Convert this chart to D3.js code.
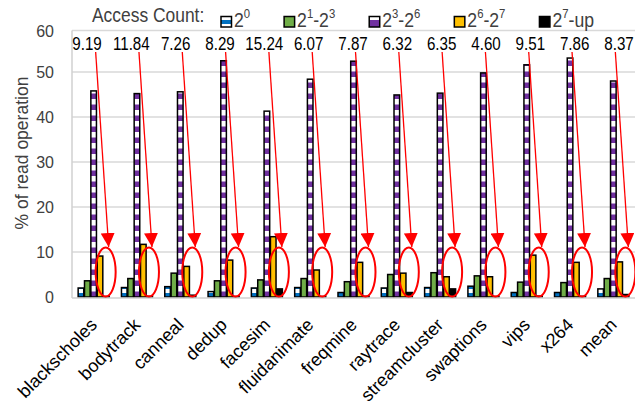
<!DOCTYPE html>
<html><head><meta charset="utf-8">
<script src="https://cdn.jsdelivr.net/npm/d3@7"></script>
<style>body{margin:0;background:#fff} svg{display:block}</style>
</head><body><svg id="c" width="635" height="410"></svg>
<script>
const categories = ["blackscholes","bodytrack","canneal","dedup","facesim","fluidanimate","freqmine","raytrace","streamcluster","swaptions","vips","x264","mean"];
const seriesNames = ["2^0","2^1-2^3","2^3-2^6","2^6-2^7","2^7-up"];
const s2_0    = [2.0, 2.1, 2.3, 1.2, 2.0, 2.1, 1.0, 2.0, 2.1, 2.4, 1.0, 1.0, 1.8];
const s2_1_3  = [3.6, 4.1, 5.3, 3.6, 3.8, 4.1, 3.4, 5.0, 5.4, 4.7, 3.3, 3.2, 4.1];
const s2_3_6  = [45.8, 45.2, 45.6, 52.5, 41.3, 48.4, 52.4, 44.9, 45.3, 49.8, 51.6, 53.1, 48.0];
const s2_6_7  = [9.1, 11.7, 6.8, 8.2, 13.4, 6.0, 7.7, 5.3, 4.5, 4.5, 9.3, 7.7, 7.8];
const s2_7_up = [0.1, 0.15, 0.4, 0.1, 1.8, 0.1, 0.15, 1.0, 1.8, 0.1, 0.2, 0.15, 0.55];
const highlightLabels = ["9.19","11.84","7.26","8.29","15.24","6.07","7.87","6.32","6.35","4.60","9.51","7.86","8.37"];
const yTicks = [0,10,20,30,40,50,60];
const legendTitle = "Access Count:";
const yTitle = "% of read operation";

const seriesValues = [s2_0, s2_1_3, s2_3_6, s2_6_7, s2_7_up];
const fills = ["url(#pBlue)","#70AD47","url(#pPurple)","#FFC000","#000000"];
const legendFills = ["url(#lBlue)","#70AD47","url(#lPurple)","#FFC000","#000000"];
const FONT = "Liberation Sans, Arial, sans-serif";

const svg = d3.select("#c");
const defs = svg.append("defs");
const base = 297, plotTop = 30.5;
function stripe(id, h, topCol, botCol, y0){
  const p = defs.append("pattern").attr("id",id).attr("patternUnits","userSpaceOnUse")
    .attr("width",6).attr("height",h).attr("y",y0);
  p.append("rect").attr("width",6).attr("height",h/2).attr("fill",topCol);
  p.append("rect").attr("y",h/2).attr("width",6).attr("height",h/2).attr("fill",botCol);
}
stripe("pBlue", 8, "#ffffff", "#0070C0", base);
stripe("pPurple", 11, "#ffffff", "#7030A0", base);
const lb = defs.append("linearGradient").attr("id","lBlue").attr("x1",0).attr("y1",0).attr("x2",0).attr("y2",1);
[[0,"#fff"],[0.3,"#fff"],[0.3,"#0070C0"],[0.7,"#0070C0"],[0.7,"#fff"],[1,"#fff"]].forEach(s=>lb.append("stop").attr("offset",s[0]).attr("stop-color",s[1]));
const lp = defs.append("linearGradient").attr("id","lPurple").attr("x1",0).attr("y1",0).attr("x2",0).attr("y2",1);
[[0,"#fff"],[0.35,"#fff"],[0.35,"#7030A0"],[1,"#7030A0"]].forEach(s=>lp.append("stop").attr("offset",s[0]).attr("stop-color",s[1]));
const mk = defs.append("marker").attr("id","arrow").attr("markerUnits","userSpaceOnUse")
  .attr("markerWidth",14).attr("markerHeight",14).attr("viewBox","0 0 14 14")
  .attr("refX",14).attr("refY",7).attr("orient","auto");
mk.append("path").attr("d","M0,0 L14,7 L0,14 Z").attr("fill","#FF0000");

const x0 = d3.scaleBand().domain(categories).range([72,635]).paddingInner(0.284).paddingOuter(0.142);
const x1 = d3.scaleBand().domain(seriesNames).range([0,x0.bandwidth()]).paddingInner(0.12);
const y = d3.scaleLinear().domain([0,60]).range([base,27]);
const gc = c => x0(c) + x0.bandwidth()/2;

// grid + frame
svg.append("g").selectAll("line").data(yTicks.filter(t=>t>0 && t<60)).join("line")
  .attr("x1",72).attr("x2",635).attr("y1",d=>y(d)).attr("y2",d=>y(d))
  .attr("stroke","#d9d9d9").attr("stroke-width",1.3);
svg.append("line").attr("x1",72).attr("x2",635).attr("y1",plotTop).attr("y2",plotTop).attr("stroke","#d9d9d9").attr("stroke-width",1.5);
svg.append("line").attr("x1",72).attr("x2",72).attr("y1",plotTop).attr("y2",base+1).attr("stroke","#d0d0d0").attr("stroke-width",1.5);

// y ticks
const yAxis = svg.append("g").attr("transform","translate(72,0)")
  .call(d3.axisLeft(y).tickValues(yTicks).tickSize(0).tickPadding(18));
yAxis.select(".domain").remove();
yAxis.selectAll(".tick").filter(d=>d===60).attr("transform",`translate(0,${plotTop+1})`);
yAxis.selectAll("text").attr("font-family",FONT).attr("font-size",16).attr("fill","#404040");

svg.append("text").attr("transform","translate(27.5,153) rotate(-90)").attr("text-anchor","middle")
  .attr("font-family",FONT).attr("font-size",17.5).attr("fill","#404040").text(yTitle);

// bars
seriesNames.forEach((s,i)=>{
  svg.append("g").selectAll("rect").data(categories.map((c,j)=>({c, v:seriesValues[i][j]}))).join("rect")
    .attr("x",d=>x0(d.c)+x1(s)).attr("width",x1.bandwidth())
    .attr("y",d=>y(d.v)).attr("height",d=>base-y(d.v))
    .attr("fill",fills[i]).attr("stroke","#000").attr("stroke-width",1.5);
});
svg.append("line").attr("x1",72).attr("x2",635).attr("y1",base+1).attr("y2",base+1).attr("stroke","#d0d0d0").attr("stroke-width",1.5);

// x labels
const xAxis = svg.append("g").attr("transform",`translate(0,${base})`).call(d3.axisBottom(x0).tickSize(0));
xAxis.select(".domain").remove();
xAxis.selectAll("text").attr("text-anchor","end").attr("dy",null).attr("y",null)
  .attr("transform","translate(4.5,29) rotate(-45)")
  .attr("font-family",FONT).attr("font-size",18).attr("fill","#000");

// ellipses and arrows
const lx = d3.scalePoint().domain(categories).range([87,619]);
svg.append("g").selectAll("ellipse").data(categories).join("ellipse")
  .attr("cx",d=>gc(d)+12).attr("cy",272).attr("rx",10).attr("ry",24.5)
  .attr("fill","none").attr("stroke","#FF0000").attr("stroke-width",2);
svg.append("g").selectAll("line").data(categories).join("line")
  .attr("x1",d=>gc(d)+2).attr("y1",52).attr("x2",d=>gc(d)+15).attr("y2",247)
  .attr("stroke","#FF0000").attr("stroke-width",1.3).attr("marker-end","url(#arrow)");
svg.append("g").selectAll("text").data(categories).join("text")
  .attr("transform",d=>`translate(${lx(d)},50) scale(0.82,1)`).attr("text-anchor","middle")
  .attr("font-family",FONT).attr("font-size",18.5).attr("fill","#000")
  .text((d,i)=>highlightLabels[i]);

// legend
svg.append("text").attr("transform","translate(92,22) scale(0.85,1)").attr("font-family",FONT)
  .attr("font-size",20.5).attr("fill","#404040").text(legendTitle);
let lxPos = 221;
seriesNames.forEach((s,i)=>{
  svg.append("rect").attr("x",lxPos).attr("y",16.5).attr("width",10.5).attr("height",10.5)
    .attr("fill",legendFills[i]).attr("stroke","#000").attr("stroke-width",1.5);
  const sx = 0.84;
  const t = svg.append("text").attr("transform",`translate(${lxPos+13},27) scale(${sx},1)`).attr("font-family",FONT)
    .attr("font-size",21).attr("fill","#404040");
  let sup = false;
  s.split(/(\^\w)/).filter(p=>p.length).forEach(p=>{
    if(p[0]==="^"){ t.append("tspan").attr("font-size",13.5).attr("dy",-9).text(p.slice(1)); sup = true; }
    else { t.append("tspan").attr("dy", sup ? 9 : 0).text(p); sup = false; }
  });
  lxPos = lxPos + 13 + t.node().getComputedTextLength()*sx + 34;
});
</script></body></html>
